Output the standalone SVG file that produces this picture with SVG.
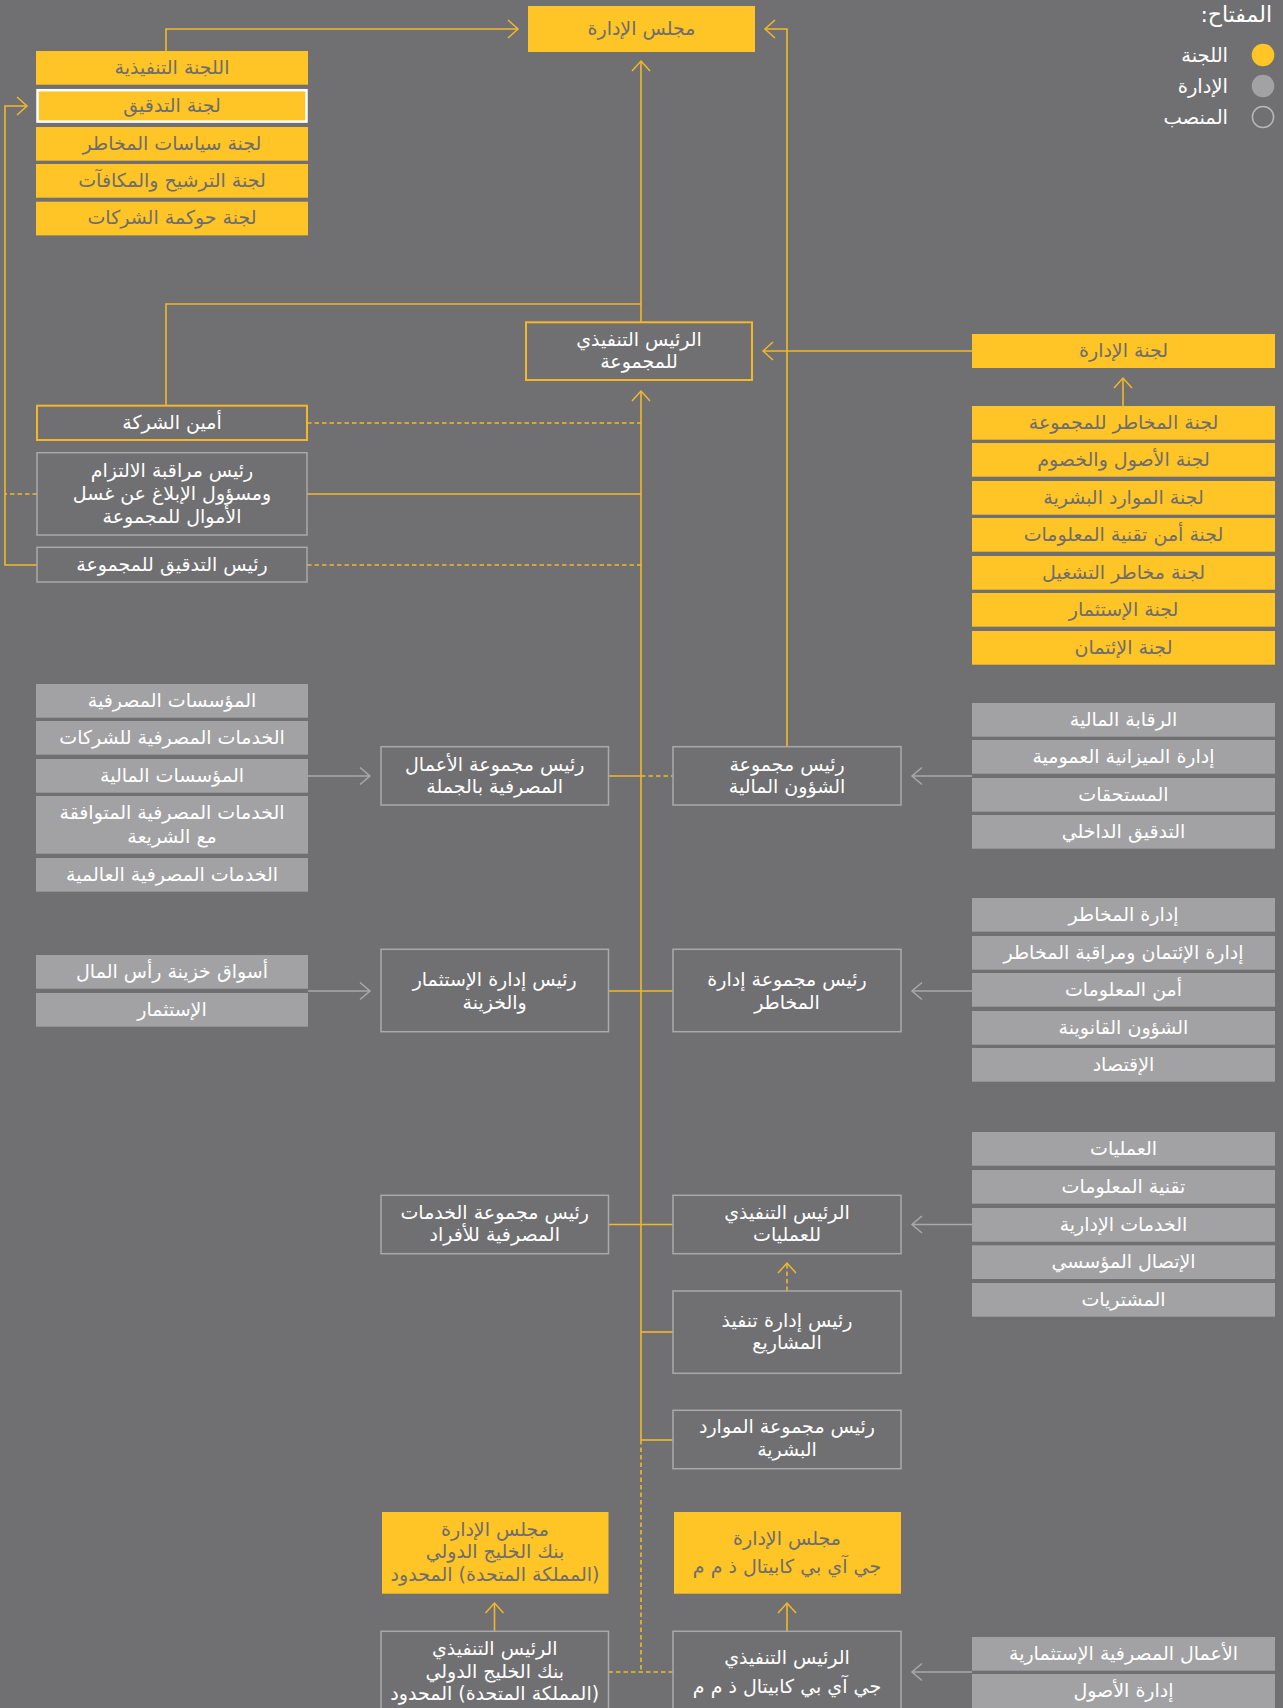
<svg xmlns="http://www.w3.org/2000/svg" width="1283" height="1708" viewBox="0 0 1283 1708">
<style>
text{font-family:"DejaVu Sans",sans-serif;font-size:19px;direction:rtl;text-anchor:middle;dominant-baseline:central;transform:translateY(-1.5px)}
.ty{fill:#6d6d70}
.tw{fill:#ffffff}
.y{fill:#ffc425}
.g{fill:#a2a2a4}
.p{fill:none;stroke:#a9a9ab;stroke-width:1.5}
.py{fill:none;stroke:#f2b82a;stroke-width:2}
.c{fill:none;stroke:#f2b82a;stroke-width:1.6}
.cg{fill:none;stroke:#a9a9ab;stroke-width:1.6}
.d{stroke-dasharray:4.5 3}
.leg{text-anchor:start;font-size:19.5px;fill:#ffffff}
</style>
<defs>
<marker id="ay" markerUnits="userSpaceOnUse" markerWidth="14" markerHeight="22" refX="11" refY="10" orient="auto" overflow="visible"><path d="M1,1 L11,10 L1,19" fill="none" stroke="#f2b82a" stroke-width="1.5"/></marker>
<marker id="ag" markerUnits="userSpaceOnUse" markerWidth="14" markerHeight="22" refX="11" refY="10" orient="auto" overflow="visible"><path d="M1,1.5 L11,10 L1,18.5" fill="none" stroke="#a9a9ab" stroke-width="1.5"/></marker>
</defs>
<rect x="0" y="0" width="1283" height="1708" fill="#707072"/>

<g id="legend">
<text x="1272" y="16" class="leg" style="font-size:22px">المفتاح:</text>
<circle cx="1263" cy="55" r="11.3" fill="#ffc425"/>
<circle cx="1263" cy="86" r="11.3" fill="#a2a2a4"/>
<circle cx="1263" cy="117" r="10.6" fill="none" stroke="#b8b8ba" stroke-width="1.5"/>
<text x="1228" y="56.5" class="leg">اللجنة</text>
<text x="1228" y="87.5" class="leg">الإدارة</text>
<text x="1228" y="118.5" class="leg">المنصب</text>
</g>

<g id="connectors">
<path class="c" d="M166,51 V29 H518" marker-end="url(#ay)"/>
<path class="c" d="M641,322 V61" marker-end="url(#ay)"/>
<path class="c" d="M166,406 V304 H641"/>
<path class="c" d="M37,565 H5 V106 H27" marker-end="url(#ay)"/>
<path class="c d" d="M37,494 H5"/>
<path class="c" d="M787,747 V29 H765" marker-end="url(#ay)"/>
<path class="c" d="M972,351 H763" marker-end="url(#ay)"/>
<path class="c" d="M1123,406 V378" marker-end="url(#ay)"/>
<path class="c" d="M641,1440 V391" marker-end="url(#ay)"/>
<path class="c d" d="M641,1440 V1672"/>
<path class="c d" d="M608.5,1672 H673"/>
<path class="c d" d="M307,423 H641"/>
<path class="c" d="M307,494 H641"/>
<path class="c d" d="M307,565 H641"/>
<path class="c" d="M608.5,776 H641"/>
<path class="c d" d="M641,776 H673"/>
<path class="c" d="M608.5,991 H673"/>
<path class="c" d="M608.5,1224.5 H673"/>
<path class="c" d="M641,1332 H673"/>
<path class="c" d="M641,1440 H673"/>
<path class="c d" d="M787,1291 V1263" marker-end="url(#ay)"/>
<path class="c" d="M494.5,1631 V1603" marker-end="url(#ay)"/>
<path class="c" d="M787,1631 V1603" marker-end="url(#ay)"/>
<path class="cg" d="M308,776 H370" marker-end="url(#ag)"/>
<path class="cg" d="M308,991 H370" marker-end="url(#ag)"/>
<path class="cg" d="M972,776 H912" marker-end="url(#ag)"/>
<path class="cg" d="M972,991 H912" marker-end="url(#ag)"/>
<path class="cg" d="M972,1224.5 H912" marker-end="url(#ag)"/>
<path class="cg" d="M972,1672 H912" marker-end="url(#ag)"/>
</g>

<g id="board"><rect class="y" x="528" y="6" width="227" height="46"/><text class="ty" x="641.5" y="29">مجلس الإدارة</text></g>

<g id="exec-committee"><rect class="y" x="36" y="51" width="272" height="33.7"/><text class="ty" x="172" y="68">اللجنة التنفيذية</text></g>
<g id="audit-committee"><rect class="y" x="37.5" y="90.2" width="269" height="31.4" stroke="#ffffff" stroke-width="2.5"/><text class="ty" x="172" y="106">لجنة التدقيق</text></g>
<g id="risk-policy-committee"><rect class="y" x="36" y="127" width="272" height="33.7"/><text class="ty" x="172" y="144">لجنة سياسات المخاطر</text></g>
<g id="nomination-committee"><rect class="y" x="36" y="164" width="272" height="33.7"/><text class="ty" x="172" y="181">لجنة الترشيح والمكافآت</text></g>
<g id="governance-committee"><rect class="y" x="36" y="201.7" width="272" height="33.7"/><text class="ty" x="172" y="218.5">لجنة حوكمة الشركات</text></g>

<g id="group-ceo"><rect class="py" x="526" y="322.3" width="226" height="57.7"/><text class="tw"><tspan x="639" y="340">الرئيس التنفيذي</tspan><tspan x="639" y="362">للمجموعة</tspan></text></g>

<g id="company-secretary"><rect class="py" x="37" y="405.7" width="270" height="34.3"/><text class="tw" x="172" y="423">أمين الشركة</text></g>
<g id="compliance-head"><rect class="p" x="37" y="452.7" width="270" height="82.3"/><text class="tw"><tspan x="172" y="471">رئيس مراقبة الالتزام</tspan><tspan x="172" y="494">ومسؤول الإبلاغ عن غسل</tspan><tspan x="172" y="517">الأموال للمجموعة</tspan></text></g>
<g id="group-audit-head"><rect class="p" x="37" y="547.3" width="270" height="34.7"/><text class="tw" x="172" y="565">رئيس التدقيق للمجموعة</text></g>

<g id="management-committee"><rect class="y" x="972" y="334" width="303" height="34"/><text class="ty" x="1123.5" y="351">لجنة الإدارة</text></g>
<g id="group-risk-committee"><rect class="y" x="972" y="406" width="303" height="33.7"/><text class="ty" x="1123.5" y="423">لجنة المخاطر للمجموعة</text></g>
<g id="alco"><rect class="y" x="972" y="443" width="303" height="33.7"/><text class="ty" x="1123.5" y="460">لجنة الأصول والخصوم</text></g>
<g id="hr-committee"><rect class="y" x="972" y="481" width="303" height="33.7"/><text class="ty" x="1123.5" y="498">لجنة الموارد البشرية</text></g>
<g id="it-security-committee"><rect class="y" x="972" y="518" width="303" height="33.7"/><text class="ty" x="1123.5" y="535">لجنة أمن تقنية المعلومات</text></g>
<g id="op-risk-committee"><rect class="y" x="972" y="556" width="303" height="33.7"/><text class="ty" x="1123.5" y="573">لجنة مخاطر التشغيل</text></g>
<g id="investment-committee"><rect class="y" x="972" y="593" width="303" height="33.7"/><text class="ty" x="1123.5" y="610">لجنة الإستثمار</text></g>
<g id="credit-committee"><rect class="y" x="972" y="631" width="303" height="33.7"/><text class="ty" x="1123.5" y="648">لجنة الإئتمان</text></g>

<g id="banking-institutions"><rect class="g" x="36" y="684" width="272" height="33.7"/><text class="tw" x="172" y="701">المؤسسات المصرفية</text></g>
<g id="corporate-banking"><rect class="g" x="36" y="721" width="272" height="33.7"/><text class="tw" x="172" y="738">الخدمات المصرفية للشركات</text></g>
<g id="financial-institutions"><rect class="g" x="36" y="759" width="272" height="33.7"/><text class="tw" x="172" y="776">المؤسسات المالية</text></g>
<g id="islamic-banking"><rect class="g" x="36" y="796" width="272" height="57.7"/><text class="tw"><tspan x="172" y="813">الخدمات المصرفية المتوافقة</tspan><tspan x="172" y="837">مع الشريعة</tspan></text></g>
<g id="global-banking"><rect class="g" x="36" y="858" width="272" height="33.7"/><text class="tw" x="172" y="875">الخدمات المصرفية العالمية</text></g>

<g id="wholesale-head"><rect class="p" x="381" y="746.7" width="227.5" height="58.3"/><text class="tw"><tspan x="494.7" y="765">رئيس مجموعة الأعمال</tspan><tspan x="494.7" y="787">المصرفية بالجملة</tspan></text></g>
<g id="cfo"><rect class="p" x="673" y="746.7" width="228" height="58.3"/><text class="tw"><tspan x="787" y="765">رئيس مجموعة</tspan><tspan x="787" y="787">الشؤون المالية</tspan></text></g>

<g id="financial-control"><rect class="g" x="972" y="703" width="303" height="33.7"/><text class="tw" x="1123.5" y="720">الرقابة المالية</text></g>
<g id="balance-sheet"><rect class="g" x="972" y="740" width="303" height="33.7"/><text class="tw" x="1123.5" y="757">إدارة الميزانية العمومية</text></g>
<g id="payables"><rect class="g" x="972" y="778" width="303" height="33.7"/><text class="tw" x="1123.5" y="795">المستحقات</text></g>
<g id="internal-audit"><rect class="g" x="972" y="815" width="303" height="33.7"/><text class="tw" x="1123.5" y="832">التدقيق الداخلي</text></g>

<g id="capital-markets"><rect class="g" x="36" y="955" width="272" height="33.7"/><text class="tw" x="172" y="972">أسواق خزينة رأس المال</text></g>
<g id="investment"><rect class="g" x="36" y="993" width="272" height="33.7"/><text class="tw" x="172" y="1010">الإستثمار</text></g>

<g id="treasury-head"><rect class="p" x="381" y="949.3" width="227.5" height="82.4"/><text class="tw"><tspan x="494.7" y="980">رئيس إدارة الإستثمار</tspan><tspan x="494.7" y="1003">والخزينة</tspan></text></g>
<g id="cro"><rect class="p" x="673" y="949.3" width="228" height="82.4"/><text class="tw"><tspan x="787" y="980">رئيس مجموعة إدارة</tspan><tspan x="787" y="1003">المخاطر</tspan></text></g>

<g id="risk-management"><rect class="g" x="972" y="898" width="303" height="33.7"/><text class="tw" x="1123.5" y="915">إدارة المخاطر</text></g>
<g id="credit-risk"><rect class="g" x="972" y="936" width="303" height="33.7"/><text class="tw" x="1123.5" y="953">إدارة الإئتمان ومراقبة المخاطر</text></g>
<g id="info-security"><rect class="g" x="972" y="973" width="303" height="33.7"/><text class="tw" x="1123.5" y="990">أمن المعلومات</text></g>
<g id="legal"><rect class="g" x="972" y="1011" width="303" height="33.7"/><text class="tw" x="1123.5" y="1028">الشؤون القانوينة</text></g>
<g id="economics"><rect class="g" x="972" y="1048" width="303" height="33.7"/><text class="tw" x="1123.5" y="1065">الإقتصاد</text></g>

<g id="retail-head"><rect class="p" x="381" y="1195.3" width="227.5" height="58.4"/><text class="tw"><tspan x="494.7" y="1213">رئيس مجموعة الخدمات</tspan><tspan x="494.7" y="1235">المصرفية للأفراد</tspan></text></g>
<g id="coo"><rect class="p" x="673" y="1195.3" width="228" height="58.4"/><text class="tw"><tspan x="787" y="1213">الرئيس التنفيذي</tspan><tspan x="787" y="1235">للعمليات</tspan></text></g>
<g id="project-head"><rect class="p" x="673" y="1291" width="228" height="82.3"/><text class="tw"><tspan x="787" y="1321">رئيس إدارة تنفيذ</tspan><tspan x="787" y="1343">المشاريع</tspan></text></g>
<g id="hr-head"><rect class="p" x="673" y="1410.3" width="228" height="58.4"/><text class="tw"><tspan x="787" y="1427">رئيس مجموعة الموارد</tspan><tspan x="787" y="1450">البشرية</tspan></text></g>

<g id="operations"><rect class="g" x="972" y="1132" width="303" height="33.7"/><text class="tw" x="1123.5" y="1149">العمليات</text></g>
<g id="it"><rect class="g" x="972" y="1170" width="303" height="33.7"/><text class="tw" x="1123.5" y="1187">تقنية المعلومات</text></g>
<g id="admin-services"><rect class="g" x="972" y="1208" width="303" height="33.7"/><text class="tw" x="1123.5" y="1225">الخدمات الإدارية</text></g>
<g id="corporate-comms"><rect class="g" x="972" y="1245.3" width="303" height="33.7"/><text class="tw" x="1123.5" y="1262">الإتصال المؤسسي</text></g>
<g id="procurement"><rect class="g" x="972" y="1283" width="303" height="33.7"/><text class="tw" x="1123.5" y="1300">المشتريات</text></g>

<g id="gib-uk-board"><rect class="y" x="382" y="1512" width="226.5" height="81.7"/><text class="ty"><tspan x="495" y="1530">مجلس الإدارة</tspan><tspan x="495" y="1552.5">بنك الخليج الدولي</tspan><tspan x="495" y="1575">(المملكة المتحدة) المحدود</tspan></text></g>
<g id="gib-capital-board"><rect class="y" x="674" y="1512" width="227" height="81.7"/><text class="ty"><tspan x="787" y="1539">مجلس الإدارة</tspan><tspan x="787" y="1567">جي آي بي كابيتال ذ م م</tspan></text></g>

<g id="gib-uk-ceo"><rect class="p" x="381" y="1631.3" width="227.5" height="90"/><text class="tw"><tspan x="494.7" y="1649">الرئيس التنفيذي</tspan><tspan x="494.7" y="1672">بنك الخليج الدولي</tspan><tspan x="494.7" y="1694">(المملكة المتحدة) المحدود</tspan></text></g>
<g id="gib-capital-ceo"><rect class="p" x="673" y="1631.3" width="228" height="90"/><text class="tw"><tspan x="787" y="1658">الرئيس التنفيذي</tspan><tspan x="787" y="1687">جي آي بي كابيتال ذ م م</tspan></text></g>

<g id="investment-banking"><rect class="g" x="972" y="1637" width="303" height="33.7"/><text class="tw" x="1123.5" y="1654">الأعمال المصرفية الإستثمارية</text></g>
<g id="asset-management"><rect class="g" x="972" y="1674" width="303" height="40"/><text class="tw" x="1123.5" y="1691">إدارة الأصول</text></g>
</svg>
